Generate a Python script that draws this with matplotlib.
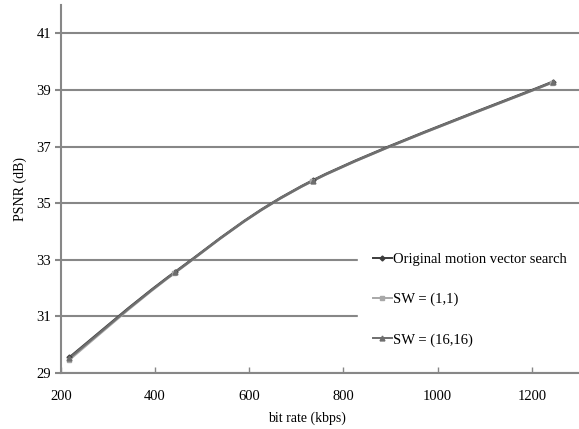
import matplotlib
matplotlib.use("Agg")
import matplotlib.pyplot as plt
from matplotlib.path import Path
from matplotlib.patches import PathPatch
from matplotlib.lines import Line2D
import numpy as np

# data
series_names = ["Original motion vector search", "SW = (1,1)", "SW = (16,16)"]
rate_orig = [218, 443, 736, 1245]
psnr_orig = [29.55, 32.58, 35.82, 39.30]
rate_sw1 = [217, 441, 734, 1243]
psnr_sw1 = [29.45, 32.52, 35.78, 39.26]
rate_sw16 = [218, 443, 736, 1245]
psnr_sw16 = [29.52, 32.56, 35.80, 39.28]

x_ticks = [200, 400, 600, 800, 1000, 1200]
y_ticks = [29, 31, 33, 35, 37, 39, 41]

plt.rcParams["font.family"] = ["Liberation Serif", "DejaVu Serif"]
plt.rcParams["font.size"] = 10.5

grey = "#878787"


def smooth_path(xs, ys):
    # excel style smoothed line, bezier between the points
    p = np.column_stack([xs, ys]).astype(float)
    n = len(p)
    verts = [p[0]]
    codes = [Path.MOVETO]
    for i in range(n - 1):
        p0 = p[i - 1] if i > 0 else p[i]
        p3 = p[i + 2] if i + 2 < n else p[i + 1]
        c1 = p[i] + (p[i + 1] - p0) / 6
        c2 = p[i + 1] - (p3 - p[i]) / 6
        verts += [c1, c2, p[i + 1]]
        codes += [Path.CURVE4] * 3
    return Path(verts, codes)


fig = plt.figure(figsize=(5.79, 4.29), dpi=100)
ax = fig.add_axes([0.105, 0.1305, 0.895, 0.8575])

styles = [("#3c3c3c", "D", 2.5), ("#a8a8a8", "s", 2.5), ("#6e6e6e", "^", 3.5)]
data = [(rate_orig, psnr_orig), (rate_sw1, psnr_sw1), (rate_sw16, psnr_sw16)]
handles = []
for (xs, ys), (col, mk, ms), name in zip(data, styles, series_names):
    ax.add_patch(PathPatch(smooth_path(xs, ys), fill=False, edgecolor=col, lw=1.6, zorder=3))
    ax.plot(xs, ys, ls="none", marker=mk, ms=ms, color=col, zorder=4)
    handles.append(Line2D([], [], color=col, lw=1.4, marker=mk, ms=ms))

ax.set_xlim(200, 1300)
ax.set_ylim(29, 42)
ax.set_xticks(x_ticks)
ax.set_yticks(y_ticks)
ax.yaxis.grid(True, color=grey, lw=1.5)
ax.set_axisbelow(True)

for s in ["top", "right"]:
    ax.spines[s].set_visible(False)
for s in ["left", "bottom"]:
    ax.spines[s].set_color(grey)
    ax.spines[s].set_linewidth(1.5)
ax.tick_params(axis="x", direction="in", length=4, color=grey, width=1, pad=12)
ax.tick_params(axis="y", direction="out", length=4, color=grey, width=1.5, pad=3)

ax.set_xlabel("bit rate (kbps)", fontsize=10)
ax.xaxis.set_label_coords(0.475, -0.106)
ax.set_ylabel("PSNR (dB)", fontsize=10, labelpad=7)

leg = ax.legend(handles, series_names, loc="lower left", bbox_to_anchor=(0.56, 0.012),
                frameon=True, fancybox=False, edgecolor="white", facecolor="white",
                framealpha=1, handlelength=1.3, handletextpad=0.1, labelspacing=1.85,
                borderpad=1.0, fontsize=10.5)

fig.savefig("out.png", dpi=100)
